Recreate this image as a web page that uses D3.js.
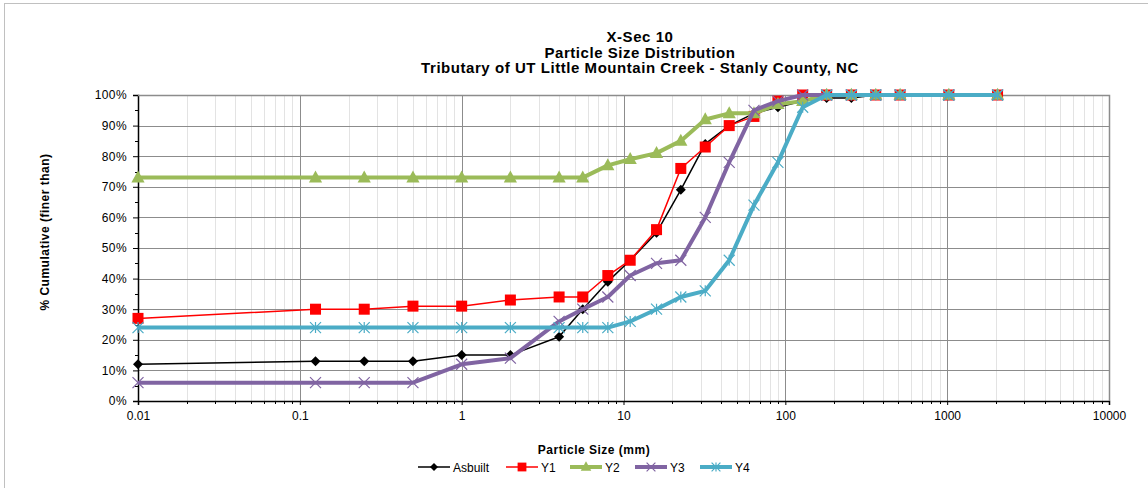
<!DOCTYPE html>
<html>
<head>
<meta charset="utf-8">
<script src="https://cdn.jsdelivr.net/npm/d3@7"></script>
<style>
  body { margin: 0; background: #fff; }
  svg { font-family: "Liberation Sans", Arial, sans-serif; }
</style>
</head>
<body>
<div id="chart"></div>
<script>
// sieve sizes (mm) and cumulative % finer for each survey
var sizes   = [0.01, 0.125, 0.25, 0.5, 1, 2, 4, 5.6, 8, 11, 16, 22.6, 32, 45, 64, 90, 128, 180, 256, 362, 512, 1024, 2048];
var asbuilt = [12, 13, 13, 13, 15, 15, 21, 30, 39, 46, 55, 69, 84, 90, 94, 96, 98, 99, 99, 100, 100, 100, 100];
var y1      = [27, 30, 30, 31, 31, 33, 34, 34, 41, 46, 56, 76, 83, 90, 93, 98, 100, 100, 100, 100, 100, 100, 100];
var y2      = [73, 73, 73, 73, 73, 73, 73, 73, 77, 79, 81, 85, 92, 94, 94, 97, 98, 100, 100, 100, 100, 100, 100];
var y3      = [6, 6, 6, 6, 12, 14, 26, 30, 34, 41, 45, 46, 60, 78, 95, 98, 100, 100, 100, 100, 100, 100, 100];
var y4      = [24, 24, 24, 24, 24, 24, 24, 24, 24, 26, 30, 34, 36, 46, 64, 78, 96, 100, 100, 100, 100, 100, 100];

var xTicks = [0.01, 0.1, 1, 10, 100, 1000, 10000];
var yTicks = [0, 10, 20, 30, 40, 50, 60, 70, 80, 90, 100];
var titleLines = ["X-Sec 10", "Particle Size Distribution", "Tributary of UT Little Mountain Creek - Stanly County, NC"];

var series = [
  {name: "Asbuilt", values: asbuilt, color: "#000000", width: 1.5, marker: "diamond"},
  {name: "Y1", values: y1, color: "#FF0000", width: 1.5, marker: "square"},
  {name: "Y2", values: y2, color: "#9BBB59", width: 4, marker: "triangle"},
  {name: "Y3", values: y3, color: "#8064A2", width: 4, marker: "x"},
  {name: "Y4", values: y4, color: "#4BACC6", width: 4, marker: "star"}
];

var W = 1148, H = 488;
var margin = {top: 95, right: 39, bottom: 87, left: 138},
    width = W - margin.left - margin.right,
    height = H - margin.top - margin.bottom;

var x = d3.scaleLog().domain([0.01, 10000]).range([0, width]);
var y = d3.scaleLinear().domain([0, 100]).range([height, 0]);

var svg = d3.select("#chart").append("svg")
    .attr("width", W)
    .attr("height", H);

// outer chart frame (only top/left visible)
svg.append("rect")
    .attr("x", 4.5).attr("y", 3.5)
    .attr("width", W + 20).attr("height", H + 20)
    .attr("fill", "none")
    .attr("stroke", "#c0c0c0");

var g = svg.append("g")
    .attr("transform", "translate(" + margin.left + "," + margin.top + ")");

// minor vertical grid
var minor = [];
for (var e = -2; e < 4; e++) {
  for (var m = 2; m < 10; m++) minor.push(m * Math.pow(10, e));
}
g.selectAll(".vminor").data(minor).enter().append("line")
    .attr("x1", function(d) { return Math.round(x(d)) + 0.5; })
    .attr("x2", function(d) { return Math.round(x(d)) + 0.5; })
    .attr("y1", 0).attr("y2", height)
    .attr("stroke", "#e3e3e3");

// major grid
g.selectAll(".vmajor").data(xTicks).enter().append("line")
    .attr("x1", function(d) { return Math.round(x(d)) + 0.5; })
    .attr("x2", function(d) { return Math.round(x(d)) + 0.5; })
    .attr("y1", 0).attr("y2", height)
    .attr("stroke", "#8c8c8c");

g.selectAll(".hmajor").data(yTicks).enter().append("line")
    .attr("x1", 0).attr("x2", width)
    .attr("y1", function(d) { return Math.round(y(d)) + 0.5; })
    .attr("y2", function(d) { return Math.round(y(d)) + 0.5; })
    .attr("stroke", "#8c8c8c");

// axes
var xAxis = g.append("g")
    .attr("transform", "translate(0," + height + ")")
    .call(d3.axisBottom(x).tickValues(xTicks).tickFormat(function(d) { return String(d); }).tickSize(4).tickPadding(6));
xAxis.append("g").selectAll("line").data(minor).enter().append("line")
    .attr("x1", function(d) { return Math.round(x(d)) + 0.5; })
    .attr("x2", function(d) { return Math.round(x(d)) + 0.5; })
    .attr("y1", 0).attr("y2", 3)
    .attr("stroke", "#000");

var yAxis = g.append("g")
    .call(d3.axisLeft(y).tickValues(yTicks).tickFormat(function(d) { return d + "%"; }).tickSize(5).tickPadding(6));
yAxis.append("g").selectAll("line").data(d3.range(5, 100, 10)).enter().append("line")
    .attr("x1", -3).attr("x2", 0)
    .attr("y1", function(d) { return Math.round(y(d)) + 0.5; })
    .attr("y2", function(d) { return Math.round(y(d)) + 0.5; })
    .attr("stroke", "#000");

[xAxis, yAxis].forEach(function(a) {
  a.selectAll("text").attr("font-size", "12px").attr("fill", "#000").attr("font-family", "Liberation Sans, Arial, sans-serif");
  a.select(".domain").attr("stroke", "#000").attr("stroke-width", 1.5);
});
yAxis.selectAll("text").attr("letter-spacing", "0.4px");

// top/right frame of plot area
g.append("path")
    .attr("d", "M0,0.5H" + (width + 0.5) + "V" + height)
    .attr("fill", "none")
    .attr("stroke", "#8c8c8c")
    .attr("stroke-width", 1.5);

// marker drawing
function marker(sel, type, color, s) {
  if (type === "diamond") {
    sel.append("path").attr("d", "M0," + (-s) + "L" + s + ",0L0," + s + "L" + (-s) + ",0Z").attr("fill", color);
  } else if (type === "square") {
    sel.append("rect").attr("x", -s).attr("y", -s).attr("width", 2 * s).attr("height", 2 * s).attr("fill", color);
  } else if (type === "triangle") {
    sel.append("path").attr("d", "M0," + (-s * 1.2) + "L" + (s * 1.1) + "," + (s * 0.8) + "L" + (-s * 1.1) + "," + (s * 0.8) + "Z").attr("fill", color);
  } else if (type === "x") {
    sel.append("path").attr("d", "M" + (-s) + "," + (-s) + "L" + s + "," + s + "M" + s + "," + (-s) + "L" + (-s) + "," + s)
        .attr("stroke", color).attr("stroke-width", 1.2);
  } else {
    sel.append("path").attr("d", "M" + (-s) + "," + (-s) + "L" + s + "," + s + "M" + s + "," + (-s) + "L" + (-s) + "," + s + "M0," + (-s) + "V" + s)
        .attr("stroke", color).attr("stroke-width", 1.2);
  }
}
var markerSize = {diamond: 5, square: 5.5, triangle: 6, x: 5.5, star: 5.5};

var line = d3.line()
    .x(function(d) { return x(d[0]); })
    .y(function(d) { return y(d[1]); });

series.forEach(function(s) {
  var pts = sizes.map(function(v, i) { return [v, s.values[i]]; });
  g.append("path")
      .datum(pts)
      .attr("d", line)
      .attr("fill", "none")
      .attr("stroke", s.color)
      .attr("stroke-width", s.width)
      .attr("stroke-linejoin", "round");
  g.selectAll(null).data(pts).enter().append("g")
      .attr("transform", function(d) { return "translate(" + x(d[0]) + "," + y(d[1]) + ")"; })
      .each(function() { marker(d3.select(this), s.marker, s.color, markerSize[s.marker]); });
});

// titles
svg.append("g").selectAll("text").data(titleLines).enter().append("text")
    .attr("x", 640)
    .attr("y", function(d, i) { return 42 + i * 15.5; })
    .attr("text-anchor", "middle")
    .attr("font-size", "15px")
    .attr("font-weight", "bold")
    .attr("letter-spacing", "0.55px")
    .text(function(d) { return d; });

svg.append("text")
    .attr("x", 594).attr("y", 454)
    .attr("text-anchor", "middle")
    .attr("font-size", "12px")
    .attr("font-weight", "bold")
    .attr("letter-spacing", "0.5px")
    .text("Particle Size (mm)");

svg.append("text")
    .attr("transform", "translate(49,232) rotate(-90)")
    .attr("text-anchor", "middle")
    .attr("font-size", "12px")
    .attr("font-weight", "bold")
    .attr("letter-spacing", "0.5px")
    .text("% Cumulative (finer than)");

// legend
var legendX = [418, 506, 570, 635, 700];
var legend = svg.append("g").selectAll("g").data(series).enter().append("g")
    .attr("transform", function(d, i) { return "translate(" + legendX[i] + ",467)"; });
legend.append("line")
    .attr("x1", 0).attr("x2", 32)
    .attr("stroke", function(d) { return d.color; })
    .attr("stroke-width", function(d) { return d.width; });
legend.each(function(d) {
  var m = d3.select(this).append("g").attr("transform", "translate(16,0)");
  marker(m, d.marker, d.color, markerSize[d.marker] * 0.8);
});
legend.append("text")
    .attr("x", 35).attr("y", 4.5)
    .attr("font-size", "12px")
    .text(function(d) { return d.name; });
</script>
</body>
</html>
